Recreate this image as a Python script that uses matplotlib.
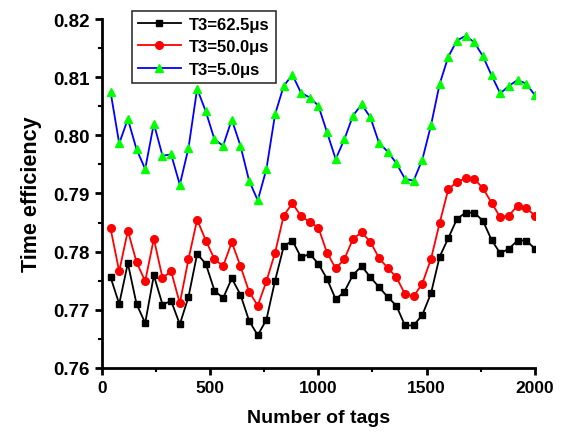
import matplotlib
matplotlib.use("Agg")
import matplotlib.pyplot as plt
from matplotlib.ticker import MultipleLocator

plt.rcParams['font.family'] = ['Liberation Sans', 'DejaVu Sans']
plt.rcParams['font.weight'] = 'bold'

tags = list(range(40, 2001, 40))

t3_625 = [0.7756, 0.7710, 0.7780, 0.7710, 0.7677, 0.7759, 0.7709, 0.7715, 0.7675, 0.7722,
          0.7796, 0.7779, 0.7733, 0.7720, 0.7754, 0.7726, 0.7681, 0.7656, 0.7683, 0.7750,
          0.7809, 0.7819, 0.7790, 0.7796, 0.7779, 0.7753, 0.7718, 0.7731, 0.7760, 0.7775,
          0.7756, 0.7739, 0.7722, 0.7707, 0.7673, 0.7673, 0.7691, 0.7728, 0.7791, 0.7823,
          0.7856, 0.7867, 0.7867, 0.7853, 0.7820, 0.7797, 0.7805, 0.7819, 0.7819, 0.7805]

t3_500 = [0.7840, 0.7766, 0.7836, 0.7782, 0.7749, 0.7822, 0.7755, 0.7766, 0.7711, 0.7787,
          0.7855, 0.7819, 0.7787, 0.7775, 0.7816, 0.7775, 0.7731, 0.7707, 0.7749, 0.7798,
          0.7862, 0.7883, 0.7861, 0.7851, 0.7841, 0.7798, 0.7771, 0.7787, 0.7822, 0.7833,
          0.7817, 0.7789, 0.7772, 0.7756, 0.7727, 0.7723, 0.7745, 0.7787, 0.7849, 0.7907,
          0.7920, 0.7926, 0.7925, 0.7909, 0.7884, 0.7859, 0.7862, 0.7879, 0.7875, 0.7862]

t3_50 = [0.8075, 0.7986, 0.8028, 0.7976, 0.7942, 0.8020, 0.7965, 0.7967, 0.7915, 0.7978,
         0.8080, 0.8041, 0.7993, 0.7982, 0.8027, 0.7982, 0.7922, 0.7888, 0.7942, 0.8036,
         0.8085, 0.8104, 0.8073, 0.8065, 0.8051, 0.8005, 0.7959, 0.7993, 0.8034, 0.8053,
         0.8031, 0.7987, 0.7972, 0.7952, 0.7925, 0.7922, 0.7958, 0.8017, 0.8088, 0.8135,
         0.8163, 0.8171, 0.8160, 0.8136, 0.8103, 0.8072, 0.8085, 0.8095, 0.8089, 0.8069]

labels = ['T3=62.5\u03bcs', 'T3=50.0\u03bcs', 'T3=5.0\u03bcs']

fig = plt.figure(figsize=(5.66, 4.35), dpi=100)
ax = fig.add_axes([0.180, 0.152, 0.765, 0.802])

ax.plot(tags, t3_625, color='black', marker='s', markersize=4.5, linewidth=1.3, label=labels[0])
ax.plot(tags, t3_500, color='red', marker='o', markersize=5.5, linewidth=1.3, label=labels[1])
ax.plot(tags, t3_50, color='blue', marker='^', markersize=6, linewidth=1.3,
        markerfacecolor='#00ff00', markeredgecolor='#00ff00', label=labels[2])

ax.set_xlim(0, 2000)
ax.set_ylim(0.76, 0.82)
ax.xaxis.set_major_locator(MultipleLocator(500))
ax.xaxis.set_minor_locator(MultipleLocator(250))
ax.yaxis.set_major_locator(MultipleLocator(0.01))
ax.yaxis.set_minor_locator(MultipleLocator(0.005))
ax.yaxis.set_major_formatter(matplotlib.ticker.FormatStrFormatter('%.2f'))

for s in ['top', 'right']:
    ax.spines[s].set_visible(False)
for s in ['left', 'bottom']:
    ax.spines[s].set_linewidth(2)

ax.tick_params(which='major', direction='out', length=5, width=2)
ax.tick_params(axis='x', which='major', labelsize=12.5)
ax.tick_params(axis='y', which='major', labelsize=13.5)
ax.tick_params(which='minor', direction='out', length=3, width=1.5)
for lab in ax.get_xticklabels() + ax.get_yticklabels():
    lab.set_fontweight('bold')

ax.set_xlabel('Number of tags', fontsize=14, fontweight='bold', labelpad=10)
ax.set_ylabel('Time efficiency', fontsize=15.5, fontweight='bold', labelpad=8)

leg = ax.legend(loc='upper left', bbox_to_anchor=(0.069, 1.023), fontsize=12,
                frameon=True, fancybox=False, borderpad=0.35, labelspacing=0.45,
                handlelength=2.6, handletextpad=0.5, borderaxespad=0)
leg.get_frame().set_edgecolor('black')
leg.get_frame().set_linewidth(1.2)
for t in leg.get_texts():
    t.set_fontweight('bold')

fig.savefig('out.png', dpi=100)
